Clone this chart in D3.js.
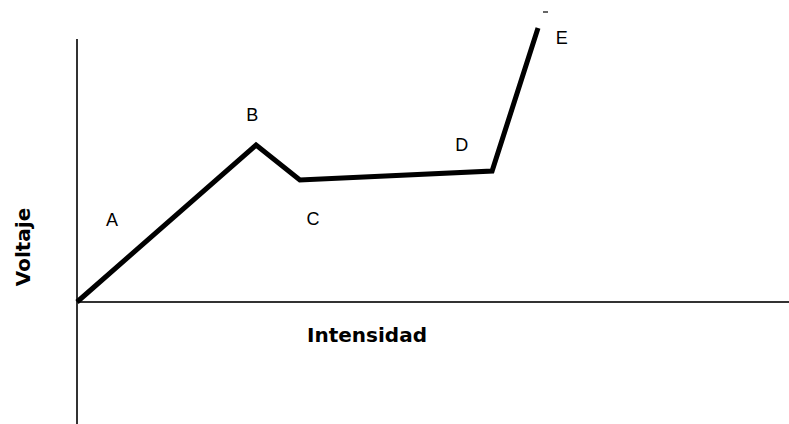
<!DOCTYPE html>
<html>
<head>
<meta charset="utf-8">
<script src="https://cdn.jsdelivr.net/npm/d3@7"></script>
<style>
  body { margin: 0; background: #fff; }
  svg { display: block; font-family: "Liberation Sans", Arial, sans-serif; }
</style>
</head>
<body>
<div id="chart"></div>
<script>
// Curve points (arbitrary units)
const intensidad = [0, 5.03, 6.26, 11.66, 12.95];
const voltaje = [0, 6.28, 4.88, 5.24, 10.96];

// Point labels and where they sit
const labels = ["A", "B", "C", "D", "E"];
const labelX = [0.98, 4.92, 6.63, 10.81, 13.62];
const labelY = [3.28, 7.48, 3.32, 6.28, 10.56];

const width = 789, height = 424;

const svg = d3.select("#chart")
    .append("svg")
    .attr("width", width)
    .attr("height", height);

// scales
const x = d3.scaleLinear().domain([0, 20]).range([77, 789]);
const y = d3.scaleLinear().domain([0, 10]).range([302, 52]);

// axes (plain lines, no ticks)
svg.append("line")
    .attr("x1", x(0)).attr("x2", x(0))
    .attr("y1", 39).attr("y2", height)
    .attr("stroke", "#333").attr("stroke-width", 2);

svg.append("line")
    .attr("x1", x(0)).attr("x2", width)
    .attr("y1", y(0)).attr("y2", y(0))
    .attr("stroke", "#333").attr("stroke-width", 2);

// the curve
const pts = intensidad.map((d, i) => [d, voltaje[i]]);
svg.append("path")
    .datum(pts)
    .attr("fill", "none")
    .attr("stroke", "#000")
    .attr("stroke-width", 5)
    .attr("stroke-linejoin", "miter")
    .attr("d", d3.line().x(d => x(d[0])).y(d => y(d[1])));

// small tick above E
svg.append("line")
    .attr("x1", 543).attr("x2", 548)
    .attr("y1", 12).attr("y2", 12)
    .attr("stroke", "#333").attr("stroke-width", 1.5);

// point labels
svg.selectAll(".lbl")
    .data(labels)
    .enter().append("text")
    .attr("class", "lbl")
    .attr("x", (d, i) => x(labelX[i]))
    .attr("y", (d, i) => y(labelY[i]))
    .attr("dy", "0.35em")
    .attr("text-anchor", "middle")
    .style("font-size", "18px")
    .text(d => d);

// axis titles
svg.append("text")
    .attr("x", 367).attr("y", 335)
    .attr("dy", "0.35em")
    .attr("text-anchor", "middle")
    .style("font-family", "'DejaVu Sans', sans-serif")
    .style("font-size", "20px").style("font-weight", "bold")
    .text("Intensidad");

svg.append("text")
    .attr("transform", "translate(23,247) rotate(-90)")
    .attr("dy", "0.35em")
    .attr("text-anchor", "middle")
    .style("font-family", "'DejaVu Sans', sans-serif")
    .style("font-size", "20px").style("font-weight", "bold")
    .text("Voltaje");
</script>
</body>
</html>
